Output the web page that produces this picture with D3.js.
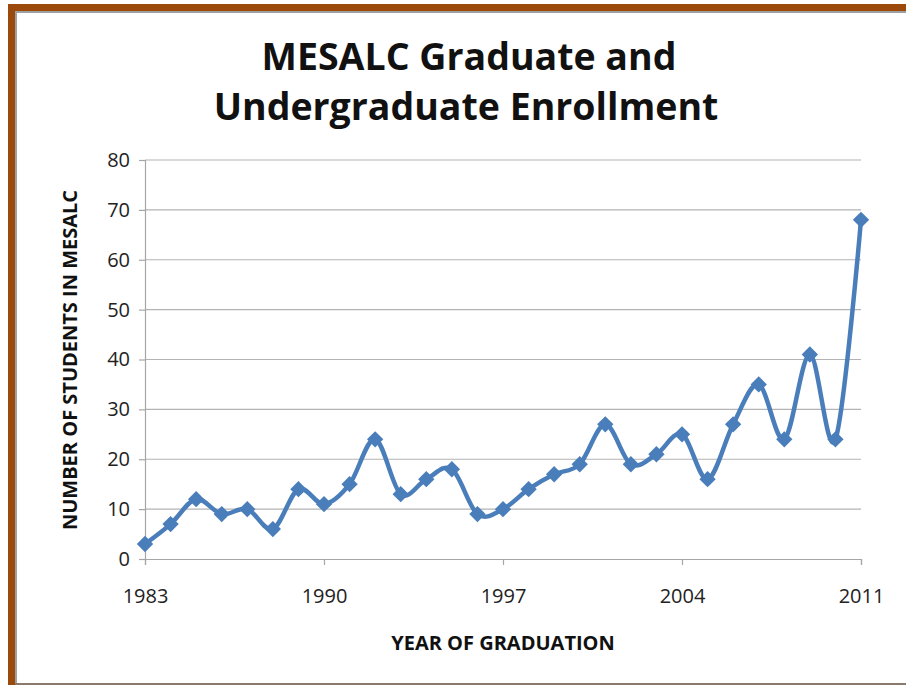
<!DOCTYPE html>
<html>
<head>
<meta charset="utf-8">
<script src="https://cdn.jsdelivr.net/npm/d3@7"></script>
<style>
  body { margin: 0; background: #fff; }
  text { font-family: "Open Sans", "Noto Sans", sans-serif; fill: #111; }
</style>
</head>
<body>
<script>
// enrollment by year of graduation
var years = d3.range(1983, 2012);
var students = [3, 7, 12, 9, 10, 6, 14, 11, 15, 24, 13, 16, 18, 9, 10,
                14, 17, 19, 27, 19, 21, 25, 16, 27, 35, 24, 41, 24, 68];
var xTicks = [1983, 1990, 1997, 2004, 2011];
var yTicks = [0, 10, 20, 30, 40, 50, 60, 70, 80];

var width = 906, height = 685;
var svg = d3.select("body").append("svg")
    .attr("width", width)
    .attr("height", height);

// slide frame
svg.append("rect").attr("x", 8).attr("y", 4).attr("width", width - 8).attr("height", 7).attr("fill", "#9b4a0b");
svg.append("rect").attr("x", 8).attr("y", 4).attr("width", 7).attr("height", height - 4).attr("fill", "#9b4a0b");
svg.append("rect").attr("x", 15).attr("y", 11).attr("width", width - 15).attr("height", 2).attr("fill", "#a0a0a0");
svg.append("rect").attr("x", 15).attr("y", 11).attr("width", 2).attr("height", height - 11).attr("fill", "#a0a0a0");
svg.append("rect").attr("x", 15).attr("y", 683).attr("width", width - 15).attr("height", 2).attr("fill", "#8a7a6e");

var x = d3.scaleLinear().domain([1983, 2011]).range([145, 861]);
var y = d3.scaleLinear().domain([0, 80]).range([559, 160]);

// gridlines
svg.append("g").selectAll("line")
    .data(yTicks.slice(1))
    .enter().append("line")
    .attr("x1", 145).attr("x2", 861)
    .attr("y1", function(d) { return y(d); })
    .attr("y2", function(d) { return y(d); })
    .attr("stroke", "#b3b3b3").attr("stroke-width", 1.2);

var yAxis = svg.append("g")
    .attr("transform", "translate(145,0)")
    .call(d3.axisLeft(y).tickValues(yTicks).tickSize(6).tickPadding(9));
var xAxis = svg.append("g")
    .attr("transform", "translate(0,559)")
    .call(d3.axisBottom(x).tickValues(xTicks).tickFormat(d3.format("d")).tickSize(6).tickPadding(24));

[yAxis, xAxis].forEach(function(a) {
    a.select(".domain").attr("stroke", "#a6a6a6").attr("stroke-width", 1.2);
    a.selectAll(".tick line").attr("stroke", "#a6a6a6").attr("stroke-width", 1.2);
    a.selectAll("text")
        .style("font-family", "'Open Sans', sans-serif")
        .style("font-size", "20px")
        .style("fill", "#222");
});

var line = d3.line()
    .x(function(d, i) { return x(years[i]); })
    .y(function(d) { return y(d); })
    .curve(d3.curveCardinal.tension(0));

svg.append("path")
    .datum(students)
    .attr("d", line)
    .attr("fill", "none")
    .attr("stroke", "#4a7ebb")
    .attr("stroke-width", 4.5)
    .attr("stroke-linejoin", "round");

svg.append("g").selectAll("path")
    .data(students)
    .enter().append("path")
    .attr("d", d3.symbol().type(d3.symbolDiamond2).size(170))
    .attr("transform", function(d, i) {
        return "translate(" + x(years[i]) + "," + y(d) + ")";
    })
    .attr("fill", "#4a7ebb");

// titles
svg.append("text")
    .attr("x", 469).attr("y", 70)
    .attr("text-anchor", "middle")
    .style("font-size", "37.5px").style("font-weight", "bold")
    .text("MESALC Graduate and");
svg.append("text")
    .attr("x", 466).attr("y", 120)
    .attr("text-anchor", "middle")
    .style("font-size", "37.5px").style("font-weight", "bold")
    .text("Undergraduate Enrollment");

svg.append("text")
    .attr("x", 503).attr("y", 650)
    .attr("text-anchor", "middle")
    .style("font-size", "20px").style("font-weight", "bold")
    .text("YEAR OF GRADUATION");

svg.append("text")
    .attr("transform", "translate(77,360) rotate(-90)")
    .attr("text-anchor", "middle")
    .style("font-size", "20px").style("font-weight", "bold")
    .text("NUMBER OF STUDENTS IN MESALC");
</script>
</body>
</html>
